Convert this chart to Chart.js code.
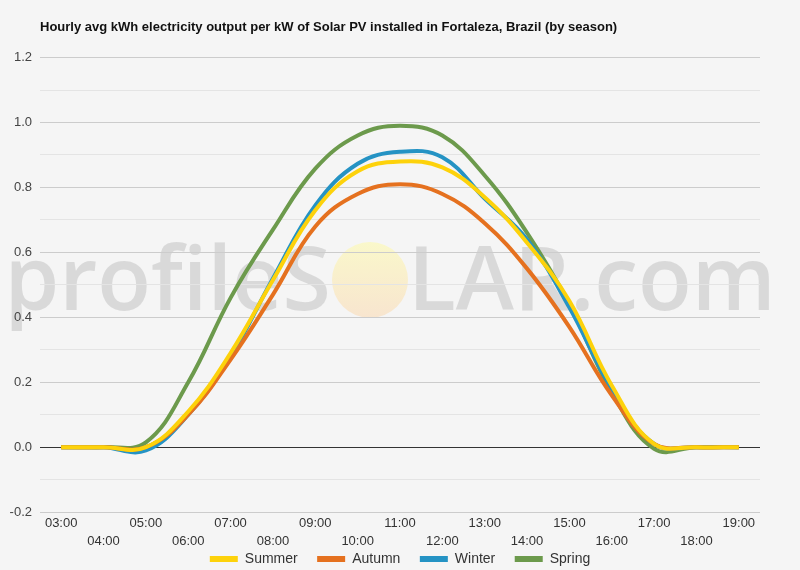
<!DOCTYPE html>
<html>
<head>
<meta charset="utf-8">
<script src="https://cdn.jsdelivr.net/npm/chart.js@4.4.1/dist/chart.umd.min.js"></script>
<style>
    html, body { margin: 0; padding: 0; background: #f5f5f5; }
    #wrap { width: 800px; height: 570px; }
</style>
</head>
<body>
<div id="wrap"><canvas id="chart" width="800" height="570"></canvas></div>
<script>
// hourly values
const hours = ['03:00', '04:00', '05:00', '06:00', '07:00', '08:00', '09:00', '10:00', '11:00',
    '12:00', '13:00', '14:00', '15:00', '16:00', '17:00', '18:00', '19:00'];
const summer = [0, 0, 0, 0.11, 0.29, 0.515, 0.73, 0.85, 0.88, 0.862, 0.77, 0.63, 0.45, 0.19, 0.01, 0, 0];
const autumn = [0, 0, 0, 0.10, 0.27, 0.47, 0.68, 0.78, 0.81, 0.78, 0.69, 0.55, 0.37, 0.16, 0.01, 0, 0];
const winter = [0, 0, -0.01, 0.10, 0.28, 0.52, 0.745, 0.873, 0.91, 0.893, 0.766, 0.64, 0.43, 0.18, 0.01, 0, 0];
const spring = [0, 0, 0.015, 0.20, 0.46, 0.67, 0.858, 0.96, 0.99, 0.96, 0.837, 0.66, 0.44, 0.17, -0.005, 0, 0];

const yTicks = [-0.2, 0, 0.2, 0.4, 0.6, 0.8, 1.0, 1.2];

// background + profileSOLAR watermark, drawn under the grid
const watermark = {
    id: 'watermark',
    afterLayout(chart) {
        // title starts at the plot's left edge, y labels sit left of it
        chart.titleBlock.left = chart.chartArea.left;
        // legend centred on the whole canvas, not on the padded box
        chart.legend.left += 20;
        chart.legend.right += 20;
    },
    beforeDraw(chart) {
        const c = chart.ctx;
        c.save();
        c.fillStyle = '#f5f5f5';
        c.fillRect(0, 0, chart.width, chart.height);

        // sun
        const g = c.createLinearGradient(0, 242, 0, 318);
        g.addColorStop(0, 'rgba(250, 248, 200, 0.95)');
        g.addColorStop(1, 'rgba(248, 228, 205, 0.95)');
        c.fillStyle = g;
        c.beginPath();
        c.arc(370, 280, 38, 0, Math.PI * 2);
        c.fill();

        c.fillStyle = 'rgba(200, 200, 200, 0.62)';
        c.font = '600 88px "Open Sans"';
        c.textBaseline = 'alphabetic';
        c.textAlign = 'right';
        c.fillText('profileS', 331, 310);
        c.textAlign = 'left';
        c.fillText('LAR.com', 408, 310);
        c.restore();
    }
};

function line(label, data, color) {
    return {
        label: label,
        data: data,
        borderColor: color,
        backgroundColor: color,
        borderWidth: 4,
        pointRadius: 0,
        tension: 0.4,
        fill: false
    };
}

new Chart(document.getElementById('chart'), {
    type: 'line',
    data: {
        labels: hours,
        datasets: [
            line('Summer', summer, '#fdd20b'),
            line('Autumn', autumn, '#e5711f'),
            line('Winter', winter, '#2593c4'),
            line('Spring', spring, '#6c9a4c')
        ]
    },
    plugins: [watermark],
    options: {
        responsive: false,
        animation: false,
        layout: { padding: { left: 0, right: 40, top: 0, bottom: 0 } },
        plugins: {
            title: {
                display: true,
                text: 'Hourly avg kWh electricity output per kW of Solar PV installed in Fortaleza, Brazil (by season)',
                align: 'start',
                color: '#111',
                font: { family: 'Arial', size: 13, weight: 'bold' },
                padding: { top: 20, bottom: 22 }
            },
            legend: {
                position: 'bottom',
                maxHeight: 18,
                labels: {
                    color: '#333',
                    font: { family: 'Arial', size: 14 },
                    boxWidth: 28,
                    boxHeight: 6,
                    padding: 0,
                    // trailing spaces give the gap between legend entries
                    generateLabels: (chart) => {
                        const items = Chart.defaults.plugins.legend.labels.generateLabels(chart);
                        items.forEach((it, i) => {
                            it.lineWidth = 0;
                            if (i < items.length - 1) it.text = it.text + '     ';
                        });
                        return items;
                    }
                }
            },
            tooltip: { enabled: false }
        },
        scales: {
            x: {
                offset: true,
                grid: { display: false, drawTicks: false },
                border: { display: false },
                ticks: {
                    autoSkip: false,
                    maxRotation: 0,
                    padding: 2,
                    color: '#333',
                    font: { family: 'Arial', size: 13, lineHeight: 1.38 },
                    callback: (v, i) => (i % 2 === 0 ? hours[i] : ['', hours[i]])
                }
            },
            y: {
                min: -0.2,
                max: 1.2,
                border: { display: false },
                afterFit: (s) => { s.width = 40; },
                grid: {
                    drawTicks: false,
                    color: (ctx) => {
                        const v = Math.round(ctx.tick.value * 10);
                        if (v === 0) return '#333';
                        return v % 2 === 0 ? '#cccccc' : '#e4e4e4';
                    }
                },
                ticks: {
                    stepSize: 0.1,
                    padding: 8,
                    color: '#444',
                    font: { family: 'Arial', size: 13 },
                    callback: (v) => {
                        const k = Math.round(v * 10);
                        if (!yTicks.some(t => Math.round(t * 10) === k)) return '';
                        return k === 0 ? '0.0' : (k / 10).toFixed(1);
                    }
                }
            }
        }
    }
});
</script>
</body>
</html>
